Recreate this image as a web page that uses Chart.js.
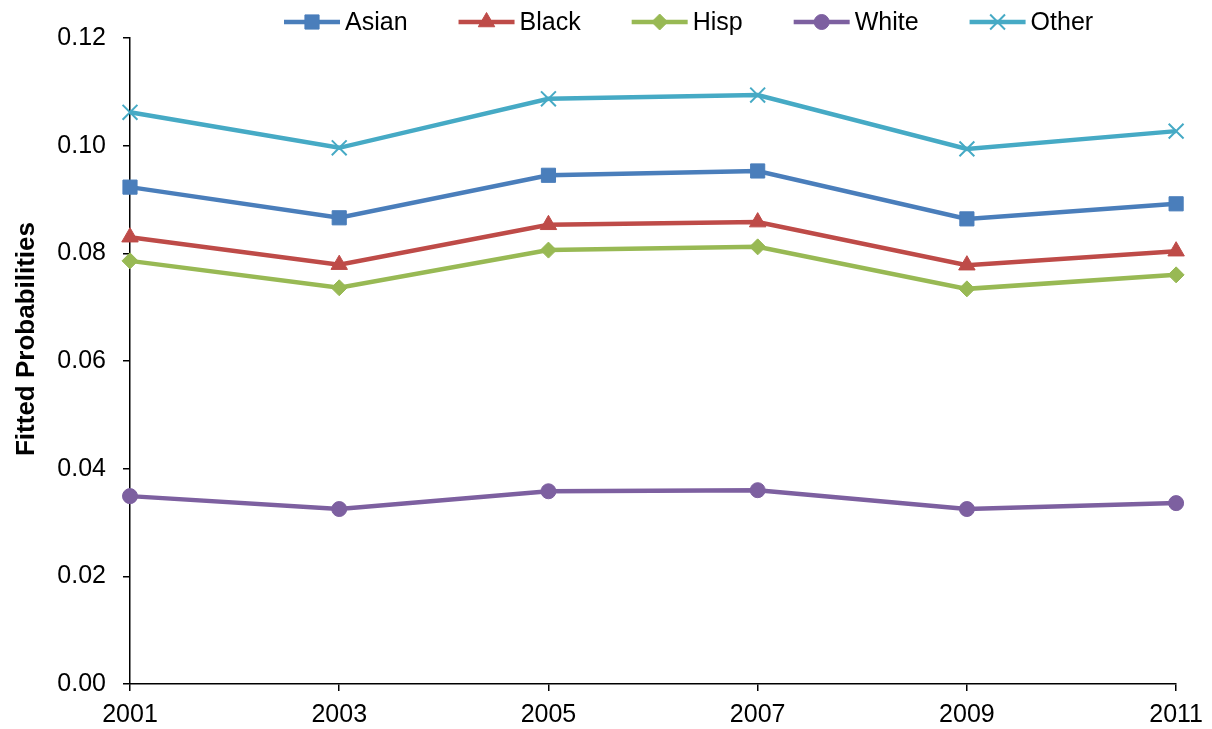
<!DOCTYPE html>
<html>
<head>
<meta charset="utf-8">
<style>
  html, body { margin: 0; padding: 0; background: #fff; }
  #wrap { width: 1212px; height: 729px; }
</style>
<script src="https://cdn.jsdelivr.net/npm/chart.js@4/dist/chart.umd.min.js"></script>
</head>
<body>
<div id="wrap"><canvas id="c" width="1212" height="729"></canvas></div>
<script>
// Survey years on the horizontal axis
const years = ['2001', '2003', '2005', '2007', '2009', '2011'];

// Fitted probabilities by group
const asian = [0.0923, 0.0866, 0.0945, 0.0953, 0.0864, 0.0892];
const black = [0.0830, 0.0779, 0.0853, 0.0858, 0.0778, 0.0804];
const hisp  = [0.0786, 0.0736, 0.0806, 0.0812, 0.0734, 0.0760];
const white = [0.0349, 0.0325, 0.0358, 0.0360, 0.0325, 0.0336];
const other = [0.1062, 0.0996, 0.1087, 0.1094, 0.0994, 0.1027];

const seriesNames = ['Asian', 'Black', 'Hisp', 'White', 'Other'];
const yTitle = 'Fitted Probabilities';

const FONT = '"Liberation Sans", Arial, sans-serif';

const styles = [
  { color: '#4A7EBB', point: 'rect',     radius: 10,   pbw: 1 },
  { color: '#BE4B48', point: 'triangle', radius: 9.5,  pbw: 1 },
  { color: '#98B954', point: 'rectRot',  radius: 8,    pbw: 1 },
  { color: '#7D60A0', point: 'circle',   radius: 7.5,  pbw: 1 },
  { color: '#46AAC5', point: 'crossRot', radius: 10.5, pbw: 2 }
];
const values = [asian, black, hisp, white, other];

const datasets = seriesNames.map((name, i) => ({
  label: name,
  data: values[i],
  borderColor: styles[i].color,
  backgroundColor: styles[i].color,
  borderWidth: 4.5,
  pointStyle: styles[i].point,
  pointRadius: styles[i].radius,
  pointBorderWidth: styles[i].pbw,
  pointBackgroundColor: styles[i].color,
  pointBorderColor: styles[i].color,
  tension: 0,
  fill: false
}));

// Legend row across the top and the rotated y-axis title
const decorations = {
  id: 'decorations',
  afterDraw(chart) {
    const ctx = chart.ctx;
    ctx.save();
    // legend
    ctx.font = '25px ' + FONT;
    ctx.textBaseline = 'middle';
    ctx.textAlign = 'left';
    let x = 284;
    const y = 22;
    chart.data.datasets.forEach((ds) => {
      ctx.strokeStyle = ds.borderColor;
      ctx.lineWidth = 4.5;
      ctx.beginPath();
      ctx.moveTo(x, y);
      ctx.lineTo(x + 56, y);
      ctx.stroke();
      ctx.fillStyle = ds.pointBackgroundColor;
      ctx.strokeStyle = ds.pointBorderColor;
      ctx.lineWidth = ds.pointBorderWidth;
      Chart.helpers.drawPoint(ctx, {
        pointStyle: ds.pointStyle,
        radius: ds.pointRadius,
        rotation: 0,
        borderWidth: ds.pointBorderWidth
      }, x + 28, y);
      ctx.fillStyle = '#000';
      ctx.fillText(ds.label, x + 61, y + 1);
      x += 61 + ctx.measureText(ds.label).width + 51;
    });
    // y-axis title
    ctx.translate(34, 339);
    ctx.rotate(-Math.PI / 2);
    ctx.font = 'bold 26px ' + FONT;
    ctx.textAlign = 'center';
    ctx.textBaseline = 'alphabetic';
    ctx.fillStyle = '#000';
    ctx.fillText(yTitle, 0, 0);
    ctx.restore();
  }
};

new Chart(document.getElementById('c'), {
  type: 'line',
  data: { labels: years, datasets },
  options: {
    responsive: false,
    animation: false,
    devicePixelRatio: 1,
    layout: { padding: { left: 0, right: 33, top: 38, bottom: 0 } },
    plugins: {
      legend: { display: false },
      tooltip: { enabled: false }
    },
    scales: {
      x: {
        type: 'category',
        offset: false,
        grid: { drawOnChartArea: false, drawTicks: true, tickLength: 7, color: '#000', lineWidth: 1.5 },
        border: { display: true, color: '#000', width: 1.5 },
        ticks: { color: '#000', font: { family: FONT, size: 25 }, padding: 9, maxRotation: 0, autoSkip: false },
        afterFit(scale) { scale.height = 45; }
      },
      y: {
        min: 0,
        max: 0.12,
        grid: { drawOnChartArea: false, drawTicks: true, tickLength: 7, color: '#000', lineWidth: 1.5 },
        border: { display: true, color: '#000', width: 1.5 },
        ticks: {
          stepSize: 0.02,
          color: '#000',
          font: { family: FONT, size: 25 },
          padding: 17,
          callback: v => v.toFixed(2)
        },
        afterFit(scale) { scale.width = 130; }
      }
    }
  },
  plugins: [decorations]
});
</script>
</body>
</html>
